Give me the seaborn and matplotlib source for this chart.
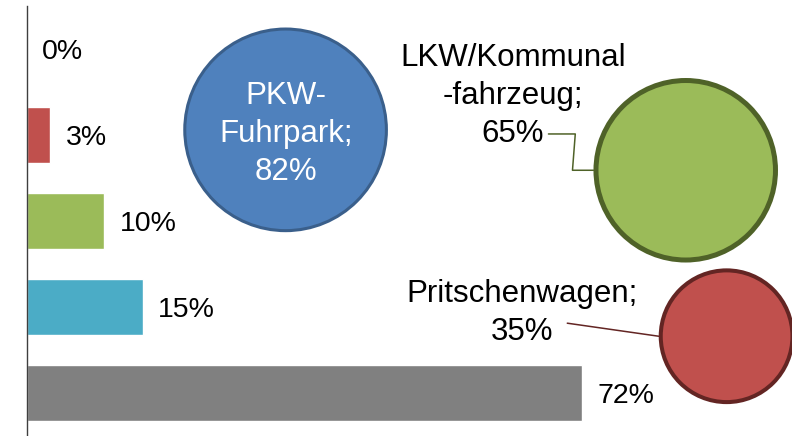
import numpy as np
import pandas as pd
import matplotlib
matplotlib.use("Agg")
import matplotlib.pyplot as plt
import matplotlib.transforms as mtransforms
import seaborn as sns

# ---------------- data ----------------
bar_categories = ["Kategorie 1", "Kategorie 2", "Kategorie 3", "Kategorie 4", "Kategorie 5"]
bar_values = [0, 3, 10, 15, 72]
bar_colors = ["#4F81BD", "#C0504D", "#9BBB59", "#4BACC6", "#808080"]

bubble_names = ["PKW-Fuhrpark", "LKW/Kommunalfahrzeug", "Pritschenwagen"]
bubble_values = [82, 65, 35]
bubble_x = [33.5, 85.4, 90.7]
bubble_y = [0.94, 1.41, 3.34]
bubble_colors = ["#4F81BD", "#9BBB59", "#C0504D"]
bubble_edge_colors = ["#3A5F8B", "#4F6228", "#632523"]
bubble_label_lines = [["PKW-", "Fuhrpark;", "82%"],
                      ["LKW/Kommunal", "-fahrzeug;", "65%"],
                      ["Pritschenwagen;", "35%"]]
bubble_label_x = [33.6, 63.0, 64.2]
bubble_label_y = [1.523, 1.081, 3.384]
bubble_label_colors = ["white", "black", "black"]

# ---------------- style ----------------
sns.set_style("white")
plt.rcParams["font.family"] = ["Liberation Sans", "DejaVu Sans"]

fig = plt.figure(figsize=(7.92, 4.36), dpi=100)
fig.patch.set_facecolor("white")
ax = fig.add_axes([27.3 / 792, 0.0, 771 / 792, 430 / 436])
ax.set_facecolor("none")

df_bars = pd.DataFrame({"Kategorie": bar_categories, "Anteil": bar_values})
sns.barplot(data=df_bars, x="Anteil", y="Kategorie", hue="Kategorie",
            palette=bar_colors, legend=False, orient="h", width=0.64,
            saturation=1, ax=ax, zorder=2)
ax.set_xlim(0, 100)
ax.set_ylim(4.5, -0.5)

for cont in ax.containers:
    anns = ax.bar_label(cont, fmt="{:.0f}%", padding=10.8, fontsize=20.5, color="black")
    for t in anns:
        t.set_va("center_baseline")

# bubbles
df_bub = pd.DataFrame({"Name": bubble_names, "x": bubble_x, "y": bubble_y, "Wert": bubble_values})
size_k = 257.0
sns.scatterplot(data=df_bub, x="x", y="y", hue="Name", palette=bubble_colors,
                size="Wert", sizes=(0, 100 * size_k), size_norm=(0, 100),
                legend=False, ax=ax, zorder=3, alpha=1, clip_on=False)
bub = ax.collections[-1]
edge_lw = [2.2, 3.6, 2.9]
bub.set_edgecolors(bubble_edge_colors)
bub.set_linewidths(edge_lw)

# labels
spacing_pt = 27.5
label_size = 22.5
for i, lines in enumerate(bubble_label_lines):
    lx, ly = bubble_label_x[i], bubble_label_y[i]
    n = len(lines)
    for j, line in enumerate(lines[:-1]):
        ax.annotate(line, xy=(lx, ly), xytext=(0, (n - 1 - j) * spacing_pt),
                    textcoords="offset points", ha="center", va="baseline",
                    fontsize=label_size, color=bubble_label_colors[i], zorder=5)
    r_out = np.sqrt(size_k * bubble_values[i]) / 2 + edge_lw[i] / 2
    if i == 0:
        ax.annotate(lines[-1], xy=(lx, ly), ha="center", va="baseline",
                    fontsize=label_size, color=bubble_label_colors[i], zorder=5)
        continue
    edge_tr = mtransforms.offset_copy(ax.transData, fig=fig, x=-r_out, y=0, units="points")
    if i == 1:
        arrow = dict(arrowstyle="-", color=bubble_edge_colors[i], lw=1.1,
                     connectionstyle="arc,angleA=0,armA=31,angleB=180,armB=21,rad=0",
                     relpos=(1, 0.5), patchA=None, shrinkA=3, shrinkB=0)
    else:
        arrow = dict(arrowstyle="-", color=bubble_edge_colors[i], lw=1.1,
                     connectionstyle="arc3,rad=0",
                     relpos=(1, 0.86), patchA=None, shrinkA=10, shrinkB=0)
    ax.annotate(lines[-1], xy=(bubble_x[i], bubble_y[i]), xycoords=edge_tr,
                xytext=(lx, ly), textcoords="data", ha="center", va="baseline",
                fontsize=label_size, color=bubble_label_colors[i], zorder=5,
                arrowprops=arrow)

# axes cosmetics
for s in ["top", "right", "bottom"]:
    ax.spines[s].set_visible(False)
ax.spines["left"].set_color("#3F3F3F")
ax.spines["left"].set_linewidth(1.0)
ax.set_xticks([])
ax.set_yticks(np.arange(-0.5, 5.0, 1.0))
ax.set_yticklabels([])
ax.tick_params(axis="y", which="major", length=1.5, width=0.8, color="#3F3F3F", direction="out")
ax.set_yticks([-0.5], minor=True)
ax.tick_params(axis="y", which="minor", length=6.5, width=0.8, color="#3F3F3F", direction="out")
ax.set_xlabel("")
ax.set_ylabel("")

fig.savefig("out.png", dpi=100, facecolor="white")
